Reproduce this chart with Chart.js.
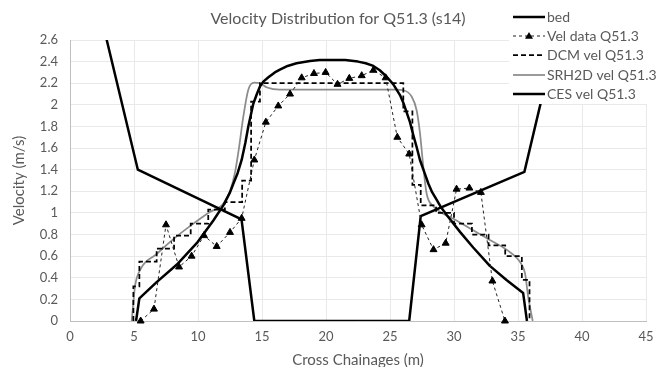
<!DOCTYPE html>
<html>
<head>
<meta charset="utf-8">
<script src="https://cdn.jsdelivr.net/npm/chart.js@4.4.0/dist/chart.umd.min.js"></script>
<style>
  html, body { margin: 0; padding: 0; background: #fff; }
  #wrap { width: 667px; height: 367px; }
</style>
</head>
<body>
<div id="wrap"><canvas id="chart"></canvas></div>
<script>
// values
const bedX = [2.0, 5.3, 13.4, 14.4, 26.5, 27.4, 35.5, 38.5];
const bedY = [3.03, 1.40, 0.94, 0, 0, 0.97, 1.38, 2.88];

const velX = [5.52, 6.56, 7.5, 8.52, 9.5, 10.47, 11.46, 12.5, 13.41, 14.4, 15.3, 16.27, 17.19, 18.1, 19.06, 19.97,
    20.9, 21.82, 22.79, 23.7, 24.66, 25.57, 26.5, 27.47, 28.4, 29.35, 30.2, 31.2, 32.1, 33.0, 33.98];
const velY = [0, 0.11, 0.89, 0.5, 0.6, 0.79, 0.69, 0.82, 0.95, 1.49, 1.84, 1.99, 2.1, 2.25, 2.29, 2.3,
    2.19, 2.245, 2.27, 2.32, 2.25, 1.7, 1.545, 0.89, 0.66, 0.72, 1.22, 1.23, 1.19, 0.37, 0];

const dcmX = [4.95, 4.95, 5.42, 6.77, 8.13, 9.43, 10.8, 12.1, 13.45, 14.15, 14.84, 26.04, 26.75, 27.4, 28.6,
    30.0, 31.4, 32.7, 34.0, 35.3, 35.9];
const dcmY = [0, 0.32, 0.55, 0.67, 0.79, 0.90, 1.03, 1.10, 1.30, 2.03, 2.20, 1.94, 1.26, 1.07, 1.00,
    0.90, 0.80, 0.70, 0.60, 0.38, 0];

const srhX = [4.82, 5.08, 5.47, 6.77, 8.1, 9.4, 10.8, 12.0, 12.5, 12.9, 13.2, 13.54, 13.93, 14.38, 14.84, 15.4, 16.4,
    25.5, 26.04, 26.7, 27.08, 27.34, 27.6, 27.86, 28.4, 28.9, 30.2, 31.5, 32.8, 34.1, 35.3, 35.55, 35.8, 36.15];
const srhY = [0, 0.32, 0.47, 0.62, 0.76, 0.88, 1.0, 1.09, 1.2, 1.38, 1.6, 1.89, 2.14, 2.205, 2.2, 2.16, 2.14,
    2.14, 2.135, 2.075, 1.95, 1.74, 1.43, 1.18, 1.06, 1.01, 0.93, 0.84, 0.75, 0.66, 0.52, 0.44, 0.22, 0];

const cesX = [5.16, 5.42, 6.77, 8.33, 9.9, 11.2, 11.98, 12.5, 12.76, 13.1, 13.41, 13.7, 13.93, 14.32, 14.6, 14.84,
    15.1, 15.5, 16.0, 16.4, 17.0, 17.7, 18.75, 19.5, 20.5, 21.5, 22.5, 23.1, 23.7, 24.2, 24.74, 25.26, 25.78,
    26.04, 26.3, 26.56, 26.82, 27.08, 27.34, 27.7, 28.0, 28.3, 28.65, 29.0, 29.43, 30.5, 31.5, 32.8, 34.1, 35.4, 35.7];
const cesY = [0, 0.21, 0.36, 0.52, 0.72, 0.93, 1.07, 1.19, 1.27, 1.37, 1.49, 1.65, 1.80, 2.01, 2.10, 2.17,
    2.215, 2.255, 2.30, 2.325, 2.36, 2.385, 2.405, 2.414, 2.416, 2.414, 2.40, 2.385, 2.36, 2.32, 2.26, 2.19, 2.09,
    2.02, 1.93, 1.84, 1.72, 1.61, 1.49, 1.37, 1.27, 1.19, 1.12, 1.05, 0.98, 0.82, 0.68, 0.51, 0.38, 0.26, 0];

const labels = ["bed", "Vel data Q51.3", "DCM vel Q51.3", "SRH2D vel Q51.3", "CES vel Q51.3"];
const xTicks = [0, 5, 10, 15, 20, 25, 30, 35, 40, 45];

const textColor = "#595959";
const fontName = "Lato, 'Open Sans', sans-serif";

function toPoints(xs, ys) {
    let pts = [];
    for (let i = 0; i < xs.length; i++)
        pts.push({ x: xs[i], y: ys[i] });
    return pts;
}

// title drawn over the plot, Excel style
const titlePlugin = {
    id: "excelTitle",
    afterDraw(chart) {
        const ctx = chart.ctx;
        ctx.save();
        ctx.fillStyle = textColor;
        ctx.font = "16px " + fontName;
        ctx.textAlign = "center";
        ctx.textBaseline = "middle";
        ctx.fillText("Velocity Distribution for Q51.3 (s14)", 338, 19);
        ctx.restore();
    }
};

// legend box at top right, covers the grid
const legendPlugin = {
    id: "excelLegend",
    afterDraw(chart) {
        const ctx = chart.ctx;
        const rowsY = [17, 36, 55, 75, 94];
        const x0 = 513, x1 = 545;
        ctx.save();
        ctx.fillStyle = "#fff";
        ctx.fillRect(509, 4, 158, 100);

        chart.data.datasets.forEach((ds, i) => {
            const y = rowsY[i];
            ctx.beginPath();
            ctx.strokeStyle = ds.borderColor;
            ctx.lineWidth = ds.borderWidth;
            ctx.setLineDash(ds.borderDash || []);
            ctx.moveTo(x0, y);
            ctx.lineTo(x1, y);
            ctx.stroke();
            ctx.setLineDash([]);
            if (ds.pointRadius > 0) {
                const cx = (x0 + x1) / 2, r = 4;
                ctx.beginPath();
                ctx.fillStyle = "#000";
                ctx.moveTo(cx, y - r);
                ctx.lineTo(cx + r, y + r * 0.7);
                ctx.lineTo(cx - r, y + r * 0.7);
                ctx.closePath();
                ctx.fill();
            }
            ctx.fillStyle = textColor;
            ctx.font = "14px " + fontName;
            ctx.textAlign = "left";
            ctx.textBaseline = "middle";
            ctx.fillText(labels[i], x1 + 2, y);
        });
        ctx.restore();
    }
};

const data = {
    datasets: [
        {
            label: labels[0],
            data: toPoints(bedX, bedY),
            showLine: true,
            borderColor: "#000",
            borderWidth: 2.5,
            pointRadius: 0,
            order: 1
        },
        {
            label: labels[1],
            data: toPoints(velX, velY),
            showLine: true,
            borderColor: "#222",
            borderWidth: 1,
            borderDash: [3, 3],
            pointStyle: "triangle",
            pointRadius: 4,
            pointBackgroundColor: "#000",
            pointBorderColor: "#000",
            pointBorderWidth: 1,
            clip: false,
            order: 0
        },
        {
            label: labels[2],
            data: toPoints(dcmX, dcmY),
            showLine: true,
            stepped: true,
            borderColor: "#000",
            borderWidth: 1.75,
            borderDash: [5, 3],
            pointRadius: 0,
            order: 2
        },
        {
            label: labels[3],
            data: toPoints(srhX, srhY),
            showLine: true,
            cubicInterpolationMode: "monotone",
            borderColor: "#8c8c8c",
            borderWidth: 1.75,
            pointRadius: 0,
            order: 3
        },
        {
            label: labels[4],
            data: toPoints(cesX, cesY),
            showLine: true,
            borderColor: "#000",
            borderWidth: 2.5,
            borderJoinStyle: "round",
            pointRadius: 0,
            order: 1
        }
    ]
};

new Chart(document.getElementById("chart"), {
    type: "scatter",
    data: data,
    options: {
        responsive: true,
        maintainAspectRatio: false,
        animation: false,
        layout: { padding: { top: 40, right: 21, left: 0, bottom: 0 } },
        plugins: {
            legend: { display: false },
            title: { display: false },
            tooltip: { enabled: false }
        },
        scales: {
            x: {
                type: "linear",
                min: 0,
                max: 45,
                afterBuildTicks: s => { s.ticks = xTicks.map(v => ({ value: v })); },
                afterFit: s => { s.height = 46; },
                ticks: { color: textColor, font: { family: fontName, size: 13 }, padding: 8 },
                grid: { color: "#e9e9e9", drawTicks: false },
                border: { color: "#bfbfbf" },
                title: {
                    display: true,
                    text: "Cross Chainages (m)",
                    color: textColor,
                    font: { family: fontName, size: 15 },
                    padding: { top: 0, bottom: -2 }
                }
            },
            y: {
                min: 0,
                max: 2.6,
                afterFit: s => { s.width = 70; },
                ticks: {
                    stepSize: 0.2,
                    color: textColor,
                    font: { family: fontName, size: 13 },
                    padding: 12,
                    callback: v => String(+v.toFixed(1))
                },
                grid: { color: "#e9e9e9", drawTicks: false },
                border: { color: "#bfbfbf" },
                title: {
                    display: true,
                    text: "Velocity (m/s)",
                    color: textColor,
                    font: { family: fontName, size: 15 },
                    padding: { top: 10, bottom: 0 }
                }
            }
        }
    },
    plugins: [titlePlugin, legendPlugin]
});
</script>
</body>
</html>
